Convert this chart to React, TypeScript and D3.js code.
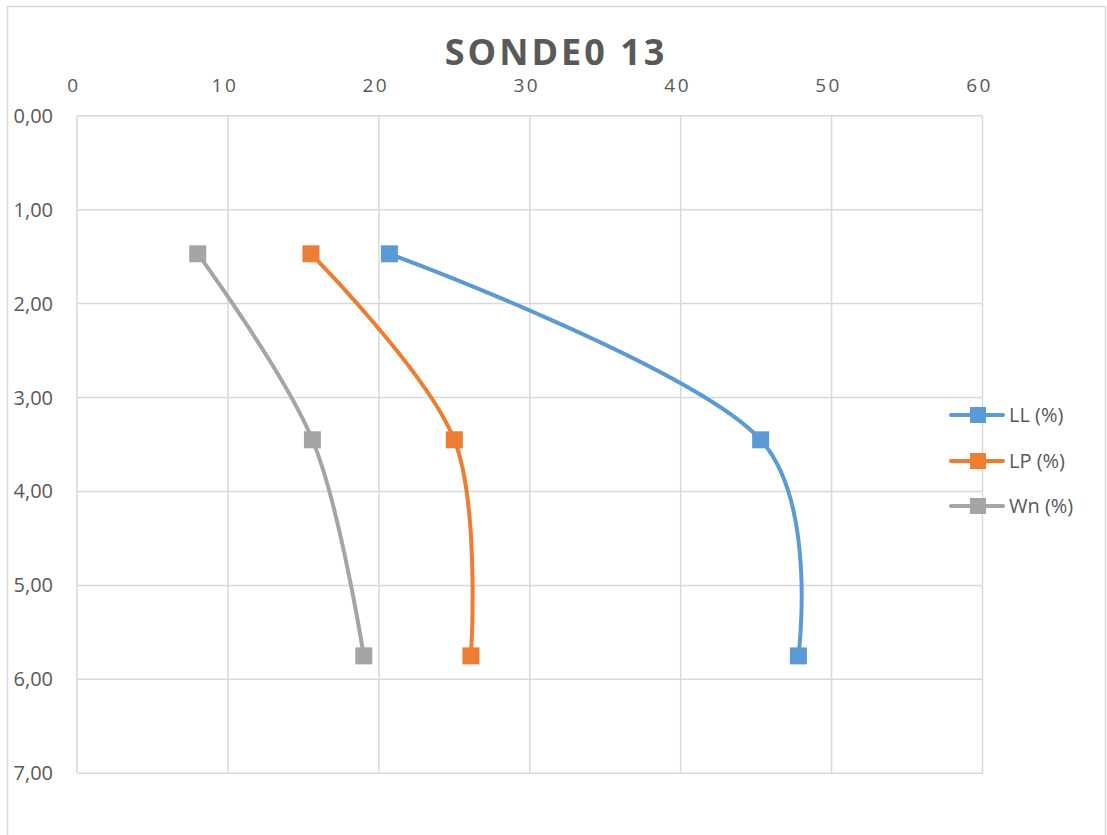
import React, { useEffect, useRef } from 'react';
import * as d3 from 'd3';

// depths (m) and the three series (%)
const depths = [1.47, 3.45, 5.75];
const llValues = [20.7, 45.3, 47.8];
const lpValues = [15.5, 25.0, 26.1];
const wnValues = [8.0, 15.6, 19.0];
const seriesNames = ['LL (%)', 'LP (%)', 'Wn (%)'];
const seriesColors = ['#5B9BD5', '#ED7D31', '#A5A5A5'];
const xTicks = [0, 10, 20, 30, 40, 50, 60];
const yTicks = [0, 1, 2, 3, 4, 5, 6, 7];
const title = 'SONDE0 13';

export default function App() {
  const ref = useRef<SVGSVGElement>(null);

  useEffect(() => {
    const svg = d3.select(ref.current);
    svg.selectAll('*').remove();

    const width = 1107, height = 835;
    const font = '"Open Sans", "Liberation Sans", sans-serif';
    const textColor = '#595959';
    const gridColor = '#D9D9D9';

    // chart area border
    svg.append('rect')
      .attr('x', 7.5).attr('y', 6.5)
      .attr('width', width - 9).attr('height', height + 20)
      .attr('fill', '#fff').attr('stroke', gridColor).attr('stroke-width', 1.5);

    const x = d3.scaleLinear().domain([0, 60]).range([77, 982.5]);
    const y = d3.scaleLinear().domain([0, 7]).range([115.7, 773.3]);

    // grid
    svg.append('g').selectAll('line.v')
      .data(xTicks).enter().append('line')
      .attr('x1', d => x(d)).attr('x2', d => x(d))
      .attr('y1', y(0)).attr('y2', y(7))
      .attr('stroke', gridColor).attr('stroke-width', 1.5);
    svg.append('g').selectAll('line.h')
      .data(yTicks).enter().append('line')
      .attr('x1', x(0)).attr('x2', x(60))
      .attr('y1', d => y(d)).attr('y2', d => y(d))
      .attr('stroke', gridColor).attr('stroke-width', 1.5);

    // x tick labels (top)
    svg.append('g').selectAll('text')
      .data(xTicks).enter().append('text')
      .attr('x', d => x(d) - 3).attr('y', 92)
      .attr('text-anchor', 'middle')
      .style('font-family', font).style('font-size', '19px')
      .style('letter-spacing', '2.5px')
      .attr('fill', textColor)
      .text(d => String(d));

    // y tick labels
    const fmt = d3.format('.2f');
    svg.append('g').selectAll('text')
      .data(yTicks).enter().append('text')
      .attr('x', 53).attr('y', d => y(d) + 7)
      .attr('text-anchor', 'end')
      .style('font-family', font).style('font-size', '20px')
      .attr('fill', textColor)
      .text(d => fmt(d).replace('.', ','));

    // title
    svg.append('text')
      .attr('x', 556).attr('y', 65)
      .attr('text-anchor', 'middle')
      .style('font-family', font).style('font-size', '36px')
      .style('font-weight', 'bold').style('letter-spacing', '3px')
      .attr('fill', textColor)
      .text(title);

    const allSeries = [llValues, lpValues, wnValues];
    const line = d3.line<[number, number]>()
      .x(d => x(d[0])).y(d => y(d[1]))
      .curve(d3.curveCatmullRom.alpha(0.2));

    allSeries.forEach((vals, i) => {
      const pts: [number, number][] = vals.map((v, j) => [v, depths[j]]);
      svg.append('path')
        .attr('d', line(pts))
        .attr('fill', 'none')
        .attr('stroke', seriesColors[i])
        .attr('stroke-width', 4)
        .attr('stroke-linecap', 'round');
      svg.append('g').selectAll('rect')
        .data(pts).enter().append('rect')
        .attr('x', d => x(d[0]) - 8.5).attr('y', d => y(d[1]) - 8.5)
        .attr('width', 17).attr('height', 17)
        .attr('fill', seriesColors[i]);
    });

    // legend
    const legendY = [415, 461, 506];
    seriesNames.forEach((name, i) => {
      const g = svg.append('g');
      g.append('line')
        .attr('x1', 951).attr('x2', 1003)
        .attr('y1', legendY[i]).attr('y2', legendY[i])
        .attr('stroke', seriesColors[i]).attr('stroke-width', 4)
        .attr('stroke-linecap', 'round');
      g.append('rect')
        .attr('x', 970).attr('y', legendY[i] - 8)
        .attr('width', 16).attr('height', 16)
        .attr('fill', seriesColors[i]);
      g.append('text')
        .attr('x', 1009).attr('y', legendY[i] + 7)
        .style('font-family', font).style('font-size', '20px')
        .attr('fill', textColor)
        .text(name);
    });
  }, []);

  return (
    <svg ref={ref} width={1107} height={835}
      style={{ position: 'absolute', left: 0, top: 0, background: '#fff' }} />
  );
}
